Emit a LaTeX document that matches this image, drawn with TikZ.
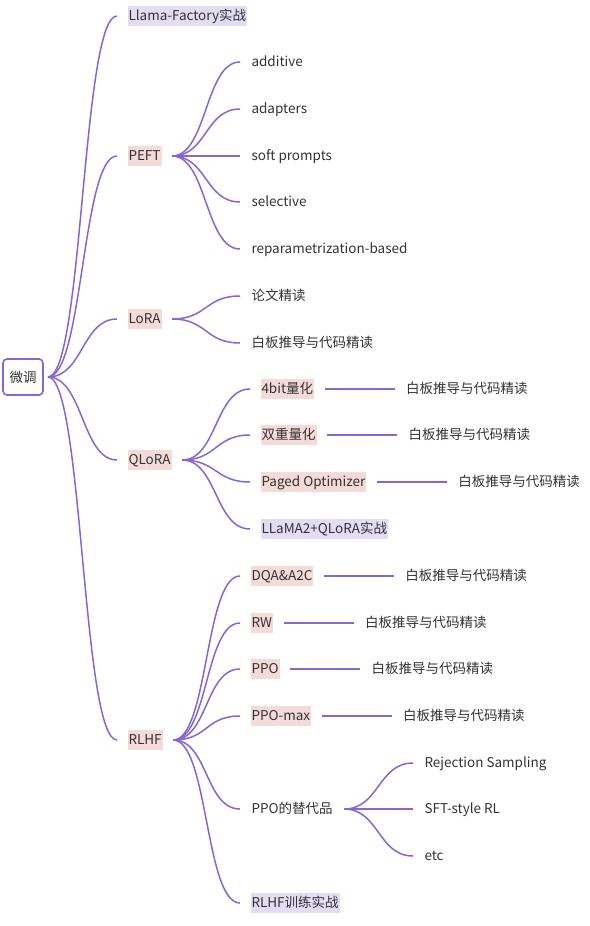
\documentclass[tikz,border=0pt]{standalone}
\usepackage{fontspec}
\setmainfont{Noto Sans CJK SC}
\usetikzlibrary{positioning}
\definecolor{ln}{HTML}{8566D6}
\definecolor{pk}{HTML}{F5DADA}
\definecolor{lv}{HTML}{E2DDF5}
\definecolor{tx}{HTML}{333333}
\tikzset{
 every node/.style={font=\fontsize{13.5}{15}\selectfont, text=tx},
 item/.style={anchor=west, inner xsep=1pt, inner ysep=3pt, outer xsep=10.5pt, outer ysep=0pt, text height=11.5pt, text depth=2pt},
 hl/.style={item, fill=pk},
 hv/.style={item, fill=lv},
 link/.style={draw=ln, line width=1.5pt},
 mm/.style={to path={.. controls +(35,0) and +(-35,0) .. (\tikztotarget)}},
 rootbox/.style={draw=ln, line width=1.6pt, rounded corners=4pt, minimum width=40pt, minimum height=36pt, outer xsep=5pt, inner sep=0pt}
}
\begin{document}
\begin{tikzpicture}[x=1pt,y=-1pt]
\useasboundingbox (0,0) rectangle (589,926);
\node[rootbox] (root) at (23,377) {微调};
% level 1
\node[hv] (l1) at (117,16) {Llama-Factory实战};
\node[hl] (peft) at (117,156) {PEFT};
\node[hl] (lora) at (117,319) {LoRA};
\node[hl] (qlora) at (117,460) {QLoRA};
\node[hl] (rlhf) at (117,740) {RLHF};
\foreach \n in {l1,peft,lora,qlora,rlhf} \draw[link] (root.east) to[mm] (\n.west);
% PEFT
\node[item] (p1) at (240,62) {additive};
\node[item] (p2) at (240,109) {adapters};
\node[item] (p3) at (240,156) {soft prompts};
\node[item] (p4) at (240,202) {selective};
\node[item] (p5) at (240,249) {reparametrization-based};
\foreach \n in {p1,p2,p3,p4,p5} \draw[link] (peft.east) to[mm] (\n.west);
% LoRA
\node[item] (lo1) at (240,296) {论文精读};
\node[item] (lo2) at (240,343) {白板推导与代码精读};
\foreach \n in {lo1,lo2} \draw[link] (lora.east) to[mm] (\n.west);
% QLoRA
\node[hl] (q1) at (250,389) {4bit量化};
\node[hl] (q2) at (250,435) {双重量化};
\node[hl] (q3) at (250,482) {Paged Optimizer};
\node[hv] (q4) at (250,529) {LLaMA2+QLoRA实战};
\foreach \n in {q1,q2,q3,q4} \draw[link] (qlora.east) to[mm] (\n.west);
\foreach \n in {q1,q2,q3} {
  \node[item, right=70pt of \n] (\n r) {白板推导与代码精读};
  \draw[link] (\n.east) -- (\n r.west);
}
% RLHF
\node[hl] (r1) at (240,576) {DQA\&A2C};
\node[hl] (r2) at (240,623) {RW};
\node[hl] (r3) at (240,669) {PPO};
\node[hl] (r4) at (240,716) {PPO-max};
\node[item] (r5) at (240,809) {PPO的替代品};
\node[hv] (r6) at (240,903) {RLHF训练实战};
\foreach \n in {r1,r2,r3,r4,r5,r6} \draw[link] (rlhf.east) to[mm] (\n.west);
\foreach \n in {r1,r2,r3,r4} {
  \node[item, right=70pt of \n] (\n r) {白板推导与代码精读};
  \draw[link] (\n.east) -- (\n r.west);
}
% PPO alternatives
\node[item] (a1) at (413,763) {Rejection Sampling};
\node[item] (a2) at (413,809) {SFT-style RL};
\node[item] (a3) at (413,856) {etc};
\foreach \n in {a1,a2,a3} \draw[link] (r5.east) to[mm] (\n.west);
\end{tikzpicture}
\end{document}
